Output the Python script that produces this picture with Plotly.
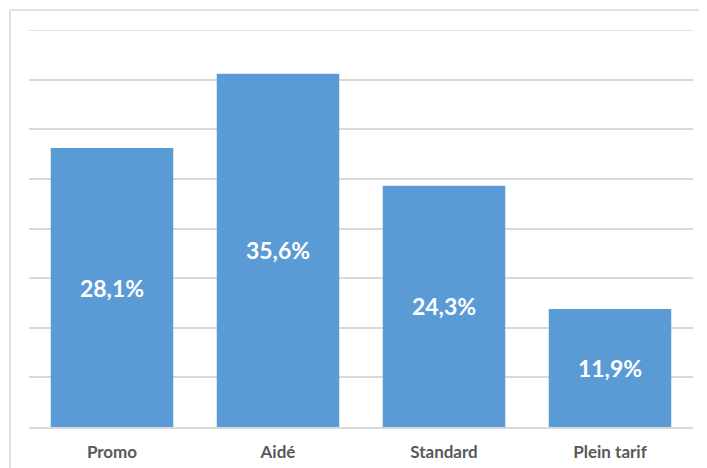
import plotly.graph_objects as go

categories = ["Promo", "Aidé", "Standard", "Plein tarif"]
values = [28.1, 35.6, 24.3, 11.9]
labels = ["28,1%", "35,6%", "24,3%", "11,9%"]

fig = go.Figure(go.Bar(
    x=categories, y=values, text=labels,
    textposition="inside", insidetextanchor="middle",
    textfont=dict(family="Lato", size=23, color="white", weight="bold"),
    marker=dict(color="#5B9BD5", line=dict(width=0)),
    hoverinfo="skip",
))

fig.update_layout(
    width=699, height=460,
    margin=dict(l=21, r=14, t=22, b=41, autoexpand=False),
    paper_bgcolor="white", plot_bgcolor="white",
    bargap=0.262,
    showlegend=False,
    xaxis=dict(
        showgrid=False, showline=True, linecolor="#d9d9d9", linewidth=1.5,
        ticks="", ticklabelstandoff=9, automargin=False,
        tickfont=dict(family="Lato", size=17, color="#595959", weight="bold"),
    ),
    yaxis=dict(
        range=[0, 40], dtick=5, showgrid=True, gridcolor="#d9d9d9", gridwidth=1.5,
        showticklabels=False, zeroline=False, ticks="", automargin=False,
    ),
    shapes=[
        dict(type="rect", xref="paper", yref="paper",
             x0=-0.0286, x1=1.2, y0=-0.3, y1=1.0504,
             line=dict(color="#d9d9d9", width=1.5), layer="below"),
        dict(type="line", xref="paper", yref="y", x0=0, x1=1, y0=40, y1=40,
             line=dict(color="#d9d9d9", width=1.5), layer="below"),
    ],
    uniformtext=dict(minsize=8, mode="show"),
)

fig.write_html("out.html")
